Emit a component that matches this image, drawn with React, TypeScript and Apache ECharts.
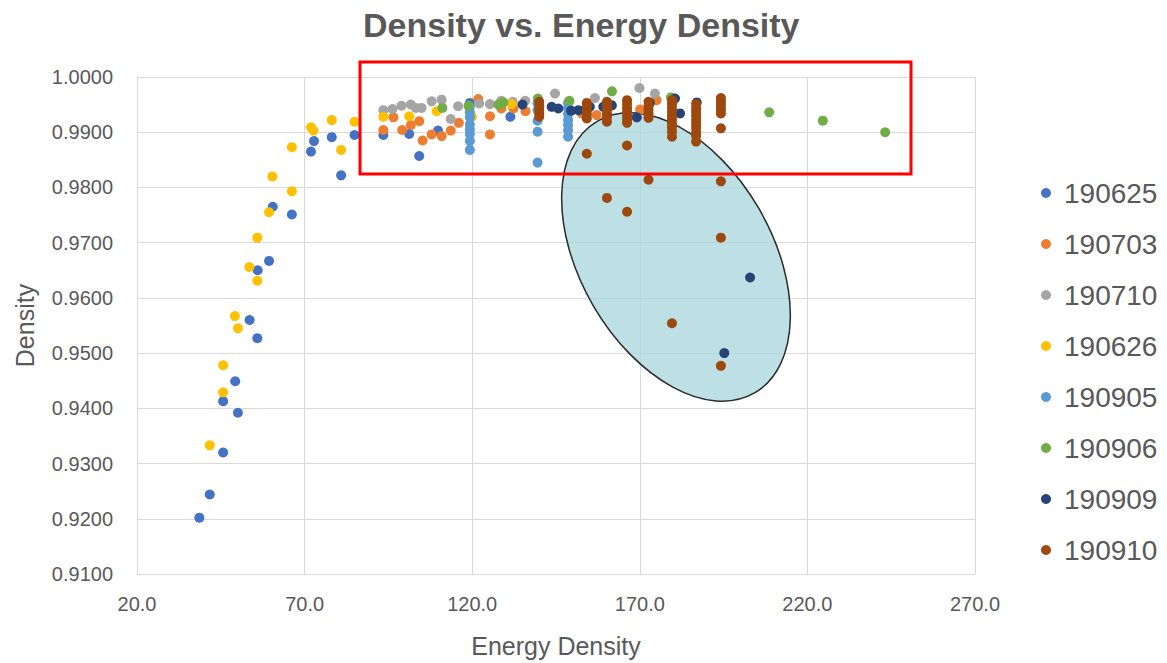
import React, { useEffect, useRef } from "react";
import * as echarts from "echarts";

// Series names (legend order) and their marker colours
const seriesNames = ["190625", "190703", "190710", "190626", "190905", "190906", "190909", "190910"];
const seriesColors = ["#4472C4", "#ED7D31", "#A5A5A5", "#FFC000", "#5B9BD5", "#70AD47", "#264478", "#9E480E"];

// [energy density, density]
const s190625: [number, number][] = [
  [38.6, 0.9202], [41.7, 0.9244], [45.7, 0.932], [50.1, 0.9392], [45.7, 0.9413],
  [49.3, 0.9449], [55.9, 0.9527], [53.6, 0.956], [56.0, 0.965], [59.4, 0.9667],
  [60.5, 0.9765], [66.2, 0.9751], [71.9, 0.9865], [72.8, 0.9884], [78.1, 0.9891],
  [84.9, 0.9895], [80.9, 0.9822], [93.5, 0.9895], [101.2, 0.9897], [104.2, 0.9857],
  [109.8, 0.9903], [131.4, 0.9928], [119.3, 0.9953],
];

const s190703: [number, number][] = [
  [93.5, 0.9904], [96.5, 0.9927], [99.1, 0.9904], [101.7, 0.9913], [104.2, 0.992],
  [105.2, 0.9885], [107.9, 0.9896], [110.9, 0.9893], [113.6, 0.9903], [116.0, 0.9917],
  [121.8, 0.996], [125.3, 0.9929], [125.3, 0.9896], [128.7, 0.9943], [132.3, 0.9943],
  [135.9, 0.9938], [152.7, 0.9934], [157.1, 0.9931], [170.1, 0.9941], [175.0, 0.9958],
  [161.7, 0.9948],
];

const s190710: [number, number][] = [
  [93.5, 0.994], [96.2, 0.9942], [98.9, 0.9948], [101.7, 0.995], [103.2, 0.9944],
  [104.9, 0.9944], [107.9, 0.9956], [110.9, 0.9959], [113.6, 0.9924], [115.8, 0.9947],
  [122.1, 0.9952], [125.3, 0.9951], [128.7, 0.9957], [132.1, 0.9955], [135.8, 0.9957],
  [144.7, 0.997], [156.6, 0.9962], [169.9, 0.998], [174.5, 0.997],
];

const s190626: [number, number][] = [
  [41.7, 0.9333], [45.7, 0.9429], [45.7, 0.9478], [50.1, 0.9545], [49.2, 0.9567],
  [55.9, 0.9631], [53.5, 0.9656], [55.9, 0.9709], [59.4, 0.9755], [66.2, 0.9793],
  [60.4, 0.982], [66.2, 0.9873], [80.9, 0.9868], [71.9, 0.9909], [72.6, 0.9903],
  [78.1, 0.9922], [84.9, 0.9919], [93.5, 0.9928], [101.2, 0.9929], [109.4, 0.9938],
  [119.9, 0.9928], [131.8, 0.9951],
];

const s190905: [number, number][] = [
  [119.3, 0.9946], [119.3, 0.9936], [119.3, 0.9927], [119.3, 0.9914], [119.3, 0.9905],
  [119.3, 0.9897], [119.3, 0.9884], [119.3, 0.9868],
  [139.5, 0.9953], [139.5, 0.994], [139.5, 0.9921], [139.5, 0.9901], [139.5, 0.9845],
  [148.6, 0.9953], [148.6, 0.9944], [148.6, 0.9933], [148.6, 0.9922], [148.6, 0.9913],
  [148.6, 0.9903], [148.6, 0.9892],
];

const s190906: [number, number][] = [
  [111.1, 0.9944], [118.9, 0.9948], [127.8, 0.995], [129.3, 0.9954], [139.6, 0.9961],
  [149.0, 0.9957], [161.7, 0.9974], [179.3, 0.9963], [208.6, 0.9936], [224.6, 0.9921],
  [243.2, 0.99],
];

const s190909: [number, number][] = [
  [135.0, 0.995], [143.7, 0.9946], [145.7, 0.9943], [149.5, 0.9939], [151.7, 0.994],
  [155.1, 0.9946], [159.1, 0.9946], [161.6, 0.9949], [169.1, 0.9927], [173.0, 0.9953],
  [180.5, 0.9961], [182.0, 0.9934], [187.0, 0.9954], [202.9, 0.9637], [195.2, 0.95],
];

const s190910: [number, number][] = [
  [140, 0.9955], [140, 0.9948], [140, 0.9941], [140, 0.9934], [140, 0.9928],
  [154.2, 0.9953], [154.2, 0.9946], [154.2, 0.9939], [154.2, 0.9932], [154.2, 0.9925], [154.2, 0.9861],
  [160.2, 0.9955], [160.2, 0.9948], [160.2, 0.9941], [160.2, 0.9934], [160.2, 0.9927], [160.2, 0.9919], [160.2, 0.9781],
  [166.2, 0.9958], [166.2, 0.9951], [166.2, 0.9944], [166.2, 0.9937], [166.2, 0.993], [166.2, 0.9923], [166.2, 0.9917],
  [166.2, 0.9876], [166.2, 0.9756],
  [172.6, 0.9955], [172.6, 0.9948], [172.6, 0.9941], [172.6, 0.9934], [172.6, 0.9926], [172.6, 0.9814],
  [179.6, 0.9958], [179.6, 0.9951], [179.6, 0.9944], [179.6, 0.9937], [179.6, 0.993], [179.6, 0.9923],
  [179.6, 0.9916], [179.6, 0.9909], [179.6, 0.9901], [179.6, 0.9892], [179.6, 0.9554],
  [186.8, 0.9951], [186.8, 0.9944], [186.8, 0.9937], [186.8, 0.993], [186.8, 0.9922],
  [186.8, 0.9915], [186.8, 0.9908], [186.8, 0.99], [186.8, 0.9893], [186.8, 0.9883],
  [194.2, 0.9962], [194.2, 0.9955], [194.2, 0.9948], [194.2, 0.9941], [194.2, 0.9934],
  [194.2, 0.9907], [194.2, 0.9811], [194.2, 0.9709], [194.2, 0.9477],
];

const seriesData = [s190625, s190703, s190710, s190626, s190905, s190906, s190909, s190910];

// Axis ranges
const xMin = 20;
const xMax = 270;
const xStep = 50;
const yMin = 0.91;
const yMax = 1.0;
const yStep = 0.01;

const FONT = "'Liberation Sans', Arial, sans-serif";
const TEXT = "#595959";
const GRID = "#D9D9D9";

export default function App() {
  const ref = useRef<HTMLDivElement>(null);

  useEffect(() => {
    document.body.style.margin = "0";
    if (!ref.current) return;
    const chart = echarts.init(ref.current, undefined, { renderer: "svg" });

    chart.setOption({
      animation: false,
      backgroundColor: "#FFFFFF",
      textStyle: { fontFamily: FONT },
      title: {
        text: "Density vs. Energy Density",
        left: 358,
        top: 3,
        padding: 5,
        textStyle: { fontFamily: FONT, fontSize: 34, fontWeight: "bold", color: TEXT },
      },
      legend: {
        orient: "vertical",
        left: 1036,
        top: 174,
        icon: "circle",
        itemWidth: 26,
        itemHeight: 10,
        itemGap: 23,
        data: seriesNames,
        textStyle: { fontFamily: FONT, fontSize: 28, color: TEXT },
      },
      grid: { left: 137, right: 192, top: 77, bottom: 87, containLabel: false },
      xAxis: {
        type: "value",
        min: xMin,
        max: xMax,
        interval: xStep,
        name: "Energy Density",
        nameLocation: "middle",
        nameGap: 59,
        nameTextStyle: { fontFamily: FONT, fontSize: 25, color: TEXT },
        axisLine: { show: true, lineStyle: { color: GRID, width: 1 } },
        axisTick: { show: false },
        axisLabel: {
          margin: 20,
          fontFamily: FONT,
          fontSize: 20,
          color: TEXT,
          formatter: (v: number) => v.toFixed(1),
        },
        splitLine: { show: true, lineStyle: { color: GRID, width: 1 } },
      },
      yAxis: {
        type: "value",
        min: yMin,
        max: yMax,
        interval: yStep,
        name: "Density",
        nameLocation: "middle",
        nameRotate: 90,
        nameGap: 100,
        nameTextStyle: { fontFamily: FONT, fontSize: 25, color: TEXT },
        axisLine: { show: true, lineStyle: { color: GRID, width: 1 } },
        axisTick: { show: false },
        axisLabel: {
          margin: 24,
          fontFamily: FONT,
          fontSize: 20,
          color: TEXT,
          formatter: (v: number) => v.toFixed(4),
        },
        splitLine: { show: true, lineStyle: { color: GRID, width: 1 } },
      },
      graphic: [
        {
          type: "ellipse",
          x: 676,
          y: 257,
          rotation: (-60 * Math.PI) / 180,
          shape: { cx: 0, cy: 0, rx: 157, ry: 96 },
          style: { fill: "rgba(165, 213, 219, 0.75)", stroke: "#2B2B2B", lineWidth: 1.5 },
          z: 1,
          silent: true,
        },
        {
          type: "rect",
          shape: { x: 360, y: 62, width: 551, height: 112 },
          style: { fill: "none", stroke: "#FF0000", lineWidth: 3 },
          z: 10,
          silent: true,
        },
      ],
      series: seriesNames.map((name, i) => ({
        name,
        type: "scatter",
        data: seriesData[i],
        symbol: "circle",
        symbolSize: 10,
        itemStyle: { color: seriesColors[i], opacity: 1 },
        z: 2,
      })),
    });

    return () => chart.dispose();
  }, []);

  return (
    <div
      ref={ref}
      style={{ position: "fixed", left: 0, top: 0, width: 1167, height: 663, background: "#FFFFFF" }}
    />
  );
}
